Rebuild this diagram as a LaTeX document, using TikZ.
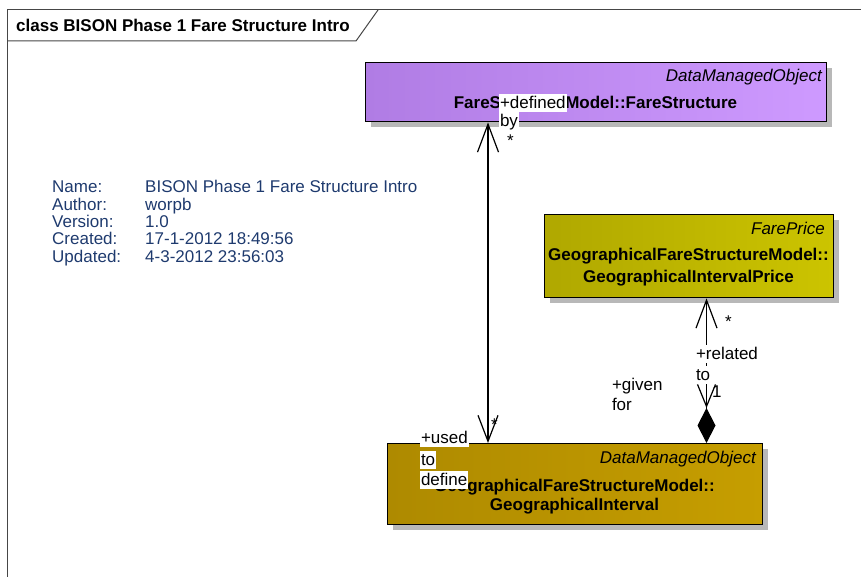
\documentclass[tikz,border=0pt]{standalone}
\usepackage{fontspec}
\setmainfont{Liberation Sans}
\usetikzlibrary{arrows.meta,shadows,calc}
\definecolor{meta}{RGB}{30,58,110}
\definecolor{frameline}{RGB}{70,70,70}
\tikzset{
  every node/.style={font=\fontsize{17}{20}\selectfont},
  classbox/.style={draw=black, line width=1.4pt, inner sep=0pt, anchor=north west,
     drop shadow={shadow xshift=5pt, shadow yshift=-5pt, fill=black!28, opacity=1}},
  stereo/.style={anchor=base east, inner sep=0pt, font=\fontsize{17}{20}\selectfont\itshape},
  cname/.style={anchor=base, inner sep=0pt, font=\fontsize{17}{20}\selectfont\bfseries},
  metatext/.style={anchor=base west, inner sep=0pt, text=meta},
  rolelabel/.style={anchor=base west, fill=white, inner xsep=0.8pt, inner ysep=0pt, text height=14.5pt, text depth=3.5pt},
  multlabel/.style={anchor=base west, inner sep=0pt},
  conn/.style={draw=black, line width=1.2pt},
}
\begin{document}
\begin{tikzpicture}[x=1pt,y=-1pt]
\useasboundingbox (0,0) rectangle (861,577);
% frame
\coordinate (ftl) at (7,10);
\draw[frameline, line width=1pt] (7,577) -- (ftl) -- (861,10);
\draw[frameline, line width=1pt] (7,41) -- (356,41) -- (378,10);
\node[anchor=base west, inner sep=0pt, font=\fontsize{17}{20}\selectfont\bfseries] (title) at (16,31.5) {class BISON Phase 1 Fare Structure Intro};
% metadata
\node[metatext] (mn) at (52,193) {Name:};
\node[metatext] (mnv) at (145,193) {BISON Phase 1 Fare Structure Intro};
\node[metatext] (ma) at (52,210.3) {Author:};
\node[metatext] (mav) at (145,210.3) {worpb};
\node[metatext] (mv) at (52,227.6) {Version:};
\node[metatext] (mvv) at (145,227.6) {1.0};
\node[metatext] (mc) at (52,244.9) {Created:};
\node[metatext] (mcv) at (145,244.9) {17-1-2012 18:49:56};
\node[metatext] (mu) at (52,262.2) {Updated:};
\node[metatext] (muv) at (145,262.2) {4-3-2012 23:56:03};
% classes
\node[classbox, minimum width=461pt, minimum height=59pt,
      left color={rgb,255:red,176;green,124;blue,228}, right color={rgb,255:red,206;green,154;blue,255}] (fs) at (365,62) {};
\node[stereo] (fss) at (822,82) {DataManagedObject};
\node[cname] (fsn) at (595.5,109) {FareStructureModel::FareStructure};

\node[classbox, minimum width=289pt, minimum height=83pt,
      left color={rgb,255:red,176;green,168;blue,0}, right color={rgb,255:red,204;green,196;blue,0}] (gip) at (544,214) {};
\node[stereo] (gips) at (825,234) {FarePrice};
\node[cname] (gipn1) at (688.5,260) {GeographicalFareStructureModel::};
\node[cname] (gipn2) at (688.5,282.5) {GeographicalIntervalPrice};

\node[classbox, minimum width=375pt, minimum height=81pt,
      left color={rgb,255:red,174;green,138;blue,0}, right color={rgb,255:red,198;green,158;blue,0}] (gi) at (387,443) {};
\node[stereo] (gis) at (756,463) {DataManagedObject};
\node[cname] (gin1) at (574.5,491) {GeographicalFareStructureModel::};
\node[cname] (gin2) at (574.5,510.5) {GeographicalInterval};
% connectors
\coordinate (c1) at (488,0);
\coordinate (c2) at (706.5,0);
\draw[conn, {Straight Barb[length=28pt,width=21pt]}-{Straight Barb[length=26pt,width=20pt]}]
  (fs.south -| c1) -- (gi.north -| c1);
\draw[conn, {Straight Barb[length=28pt,width=21pt]}-{Straight Barb[length=22pt,width=18pt]Diamond[length=35pt,width=18pt,fill=black]}]
  (gip.south -| c2) -- (gi.north -| c2);
% labels
\node[rolelabel] (l1) at (499,109) {+defined};
\node[rolelabel] (l2) at (499,127) {by};
\node[multlabel] (m1) at (507,147) {*};
\node[multlabel] (m2) at (491,430) {*};
\node[rolelabel] (l3) at (420,443) {+used};
\node[rolelabel] (l4) at (420,465) {to};
\node[rolelabel] (l5) at (420,485) {define};
\node[multlabel] (m3) at (725,327) {*};
\node[rolelabel] (l6) at (695,359) {+related};
\node[rolelabel] (l7) at (695,380) {to};
\node[multlabel] (m4) at (712,397) {1};
\node[rolelabel] (l8) at (611,390) {+given};
\node[rolelabel] (l9) at (611,410) {for};
\end{tikzpicture}
\end{document}
